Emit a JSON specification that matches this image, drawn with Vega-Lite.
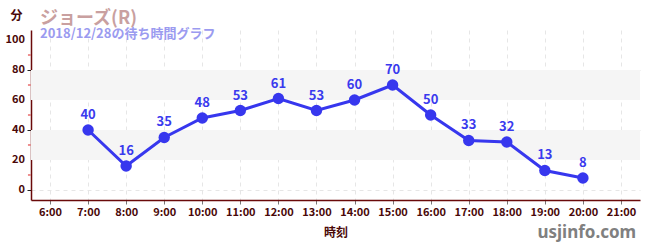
{
  "$schema": "https://vega.github.io/schema/vega-lite/v6.json",
  "width": 609,
  "height": 170,
  "autosize": "none",
  "padding": {"left": 31, "top": 30, "right": 10, "bottom": 50},
  "background": "white",
  "config": {
    "font": "Noto Sans CJK JP",
    "view": {"stroke": null}
  },
  "title": {
    "text": "ジョーズ(R)",
    "subtitle": "2018/12/28の待ち時間グラフ",
    "anchor": "start",
    "frame": "group",
    "dx": 9,
    "offset": -32,
    "font": "Noto Sans CJK JP",
    "fontSize": 18,
    "fontWeight": "bold",
    "color": "#c9a0a0",
    "subtitleFont": "Noto Sans CJK JP",
    "subtitleFontSize": 13,
    "subtitleFontWeight": "bold",
    "subtitleColor": "#9b9bf0",
    "subtitlePadding": 0
  },
  "datasets": {
    "waits": [
      {"hour": 7, "wait": 40},
      {"hour": 8, "wait": 16},
      {"hour": 9, "wait": 35},
      {"hour": 10, "wait": 48},
      {"hour": 11, "wait": 53},
      {"hour": 12, "wait": 61},
      {"hour": 13, "wait": 53},
      {"hour": 14, "wait": 60},
      {"hour": 15, "wait": 70},
      {"hour": 16, "wait": 50},
      {"hour": 17, "wait": 33},
      {"hour": 18, "wait": 32},
      {"hour": 19, "wait": 13},
      {"hour": 20, "wait": 8}
    ],
    "bands": [
      {"lo": 20, "hi": 40},
      {"lo": 60, "hi": 80}
    ],
    "minor": [
      {"v": 10}, {"v": 30}, {"v": 50}, {"v": 70}, {"v": 90}
    ],
    "ylabels": [
      {"v": 0}, {"v": 20}, {"v": 40}, {"v": 60}, {"v": 80}, {"v": 100}
    ],
    "site": [
      {"name": "usjinfo.com", "hour": 21.4, "wait": -29}
    ]
  },
  "layer": [
    {
      "data": {"name": "bands"},
      "mark": {"type": "rect", "color": "#f5f5f5"},
      "encoding": {
        "y": {
          "field": "lo",
          "type": "quantitative",
          "scale": {"domain": [-6.67, 106.67], "nice": false, "zero": false},
          "axis": {
            "values": [0, 20, 40, 60, 80, 100],
            "labels": false,
            "title": "分",
            "titleAngle": 0,
            "titleX": -15,
            "titleY": -15,
            "titleAlign": "center",
            "titleBaseline": "middle",
            "titleFont": "Noto Sans CJK JP",
            "titleFontSize": 12,
            "titleFontWeight": "bold",
            "titleColor": "#4a0808",
            "domainColor": "#6a0a0a",
            "domainWidth": 1.5,
            "tickColor": "#222222",
            "tickSize": 4,
            "tickOffset": 0,
            "grid": true,
            "gridColor": "#e6e6e6",
            "gridDash": [4, 4]
          }
        },
        "y2": {"field": "hi"}
      }
    },
    {
      "data": {"name": "waits"},
      "mark": {"type": "line", "color": "#3737ee", "strokeWidth": 3},
      "encoding": {
        "x": {
          "field": "hour",
          "type": "quantitative",
          "scale": {"domain": [5.5, 21.5], "nice": false, "zero": false},
          "axis": {
            "values": [6, 7, 8, 9, 10, 11, 12, 13, 14, 15, 16, 17, 18, 19, 20, 21],
            "labelExpr": "datum.value + ':00'",
            "labelOverlap": false,
            "title": "時刻",
            "titleFont": "Noto Sans CJK JP",
            "titleFontSize": 12,
            "titleFontWeight": "bold",
            "titleColor": "#4a0808",
            "titlePadding": 10,
            "labelFont": "Noto Sans CJK JP",
            "labelFontSize": 11,
            "labelFontWeight": "bold",
            "labelColor": "#4a0808",
            "labelPadding": 2,
            "domainColor": "#6a0a0a",
            "domainWidth": 1.5,
            "tickColor": "#777777",
            "tickSize": 4,
            "tickOffset": 0,
            "grid": true,
            "gridColor": "#e6e6e6",
            "gridDash": [4, 4]
          }
        },
        "y": {"field": "wait", "type": "quantitative"}
      }
    },
    {
      "data": {"name": "minor"},
      "mark": {"type": "rule", "color": "#dd2222", "strokeWidth": 1},
      "encoding": {
        "x": {"datum": 5.42, "type": "quantitative"},
        "x2": {"datum": 5.49},
        "y": {"field": "v", "type": "quantitative"}
      }
    },
    {
      "data": {"name": "ylabels"},
      "mark": {"type": "text", "align": "right", "baseline": "middle", "dx": -6, "color": "#4a0808", "fontSize": 11, "fontWeight": "bold", "font": "Noto Sans CJK JP"},
      "encoding": {
        "x": {"datum": 5.5, "type": "quantitative"},
        "y": {"field": "v", "type": "quantitative"},
        "text": {"field": "v", "type": "quantitative"}
      }
    },
    {
      "data": {"name": "waits"},
      "mark": {"type": "point", "filled": true, "opacity": 1, "color": "#3737ee", "size": 130},
      "encoding": {
        "x": {"field": "hour", "type": "quantitative"},
        "y": {"field": "wait", "type": "quantitative"}
      }
    },
    {
      "data": {"name": "waits"},
      "mark": {"type": "text", "color": "#3a3aee", "fontSize": 13, "fontWeight": "bold", "dy": -15, "font": "Noto Sans CJK JP"},
      "encoding": {
        "x": {"field": "hour", "type": "quantitative"},
        "y": {"field": "wait", "type": "quantitative"},
        "text": {"field": "wait", "type": "quantitative"}
      }
    },
    {
      "data": {"name": "site"},
      "mark": {"type": "text", "color": "#808080", "fontSize": 17, "fontWeight": "bold", "align": "right", "font": "Noto Sans"},
      "encoding": {
        "x": {"field": "hour", "type": "quantitative"},
        "y": {"field": "wait", "type": "quantitative"},
        "text": {"field": "name"}
      }
    }
  ]
}
